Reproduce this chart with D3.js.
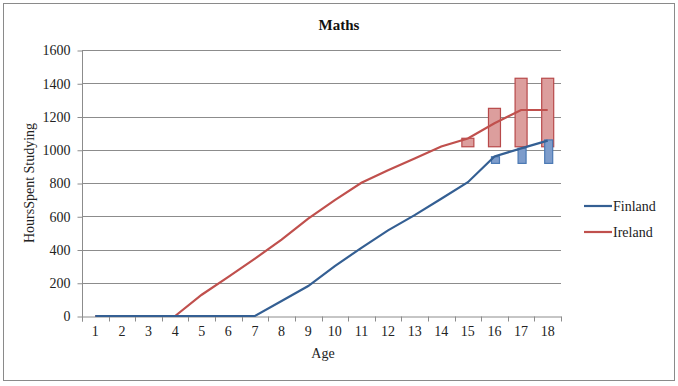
<!DOCTYPE html>
<html>
<head>
<meta charset="utf-8">
<script src="https://cdn.jsdelivr.net/npm/d3@7"></script>
<style>
  body { margin: 0; background: #fff; }
  svg, svg text { font-family: "Liberation Serif", "Times New Roman", serif; }
</style>
</head>
<body>
<svg id="chart" width="678" height="386"></svg>
<script>
// data
var ages = [1, 2, 3, 4, 5, 6, 7, 8, 9, 10, 11, 12, 13, 14, 15, 16, 17, 18];
var finland = [0, 0, 0, 0, 0, 0, 0, 90, 180, 300, 410, 515, 607, 705, 805, 960, 1008, 1055];
var ireland = [0, 0, 0, 0, 128, 235, 345, 460, 586, 697, 801, 877, 948, 1020, 1068, 1159, 1239, 1239];
var yTicks = [0, 200, 400, 600, 800, 1000, 1200, 1400, 1600];

// floating range bars
var irelandBarAges = [15, 16, 17, 18];
var irelandLow = [1018, 1018, 1018, 1018];
var irelandHigh = [1069, 1249, 1430, 1430];
var finlandBarAges = [16, 17, 18];
var finlandLow = [918, 918, 918];
var finlandHigh = [958, 1009, 1059];

var blue = '#345f93', red = '#c0504d';

var svg = d3.select('#chart');

svg.append('rect')
    .attr('x', 3.5).attr('y', 3.5)
    .attr('width', 671).attr('height', 377)
    .attr('fill', '#fff')
    .attr('stroke', '#8a8a8a');

var x = d3.scaleBand().domain(ages).range([82, 561]).padding(0);
var y = d3.scaleLinear().domain([0, 1600]).range([316, 50]);
var cx = function(a) { return x(a) + x.bandwidth() / 2; };

// gridlines
svg.append('g')
    .selectAll('line')
    .data(yTicks.filter(function(d) { return d > 0; }))
    .join('line')
    .attr('x1', 82).attr('x2', 561)
    .attr('y1', function(d) { return Math.round(y(d)) + 0.5; })
    .attr('y2', function(d) { return Math.round(y(d)) + 0.5; })
    .attr('stroke', '#8c8c8c')
    .attr('stroke-width', 1);

// y axis
var yAxis = svg.append('g')
    .attr('transform', 'translate(82.5,0.5)')
    .call(d3.axisLeft(y).tickValues(yTicks).tickFormat(d3.format('d')).tickSize(5).tickPadding(7));
yAxis.attr('font-family', null);
yAxis.select('.domain').attr('d', 'M0,' + y(1600) + 'V' + (y(0) + 5)).attr('stroke', '#8c8c8c');
yAxis.selectAll('.tick line').attr('stroke', '#8c8c8c');
yAxis.selectAll('.tick text')
    .attr('font-size', 14)
    .attr('fill', '#222');

// x axis
var xAxis = svg.append('g')
    .attr('transform', 'translate(0,' + (Math.round(y(0)) + 0.5) + ')')
    .call(d3.axisBottom(x).tickSize(0).tickPadding(10));
xAxis.attr('font-family', null);
xAxis.select('.domain').attr('stroke', '#8c8c8c');
xAxis.selectAll('.tick text')
    .attr('font-size', 14)
    .attr('fill', '#222');
xAxis.selectAll('line.bound')
    .data(ages.concat(['end']))
    .join('line')
    .attr('class', 'bound')
    .attr('x1', function(d) { return Math.round(d === 'end' ? x.range()[1] : x(d)) + 0.5; })
    .attr('x2', function(d) { return Math.round(d === 'end' ? x.range()[1] : x(d)) + 0.5; })
    .attr('y1', 0).attr('y2', 5)
    .attr('stroke', '#8c8c8c');

// range bars
svg.append('g')
    .selectAll('rect')
    .data(irelandBarAges)
    .join('rect')
    .attr('x', function(d) { return cx(d) - 6; })
    .attr('width', 12)
    .attr('y', function(d, i) { return y(irelandHigh[i]); })
    .attr('height', function(d, i) { return y(irelandLow[i]) - y(irelandHigh[i]); })
    .attr('fill', '#dc9e9d')
    .attr('stroke', '#b8494a')
    .attr('stroke-width', 1.2);

svg.append('g')
    .selectAll('rect')
    .data(finlandBarAges)
    .join('rect')
    .attr('x', function(d) { return cx(d) - 3; })
    .attr('width', 8)
    .attr('y', function(d, i) { return y(finlandHigh[i]); })
    .attr('height', function(d, i) { return y(finlandLow[i]) - y(finlandHigh[i]); })
    .attr('fill', '#7d9ccb')
    .attr('stroke', '#4a78b3')
    .attr('stroke-width', 1.2);

// lines
var line = d3.line()
    .x(function(d) { return cx(d[0]); })
    .y(function(d) { return y(d[1]); });

svg.append('path')
    .datum(ages.map(function(a, i) { return [a, ireland[i]]; }))
    .attr('d', line)
    .attr('fill', 'none')
    .attr('stroke', red)
    .attr('stroke-width', 2.2);

svg.append('path')
    .datum(ages.map(function(a, i) { return [a, finland[i]]; }))
    .attr('d', line)
    .attr('fill', 'none')
    .attr('stroke', blue)
    .attr('stroke-width', 2.2);

// titles
svg.append('text')
    .attr('x', 339).attr('y', 30)
    .attr('text-anchor', 'middle')
    .attr('font-size', 15)
    .attr('font-weight', 'bold')
    .attr('fill', '#111')
    .text('Maths');

svg.append('text')
    .attr('transform', 'translate(34,183) rotate(-90)')
    .attr('text-anchor', 'middle')
    .attr('font-size', 14)
    .attr('fill', '#222')
    .text('HoursSpent Studying');

svg.append('text')
    .attr('x', 323).attr('y', 358)
    .attr('text-anchor', 'middle')
    .attr('font-size', 14)
    .attr('fill', '#222')
    .text('Age');

// legend
var series = ['Finland', 'Ireland'];
var colors = [blue, red];
var leg = svg.append('g')
    .selectAll('g')
    .data(series)
    .join('g')
    .attr('transform', function(d, i) { return 'translate(584,' + (206 + i * 26) + ')'; });
leg.append('line')
    .attr('x1', 0).attr('x2', 28)
    .attr('stroke', function(d, i) { return colors[i]; })
    .attr('stroke-width', 2.2);
leg.append('text')
    .attr('x', 29).attr('y', 5)
    .attr('font-size', 14)
    .attr('fill', '#222')
    .text(function(d) { return d; });
</script>
</body>
</html>
